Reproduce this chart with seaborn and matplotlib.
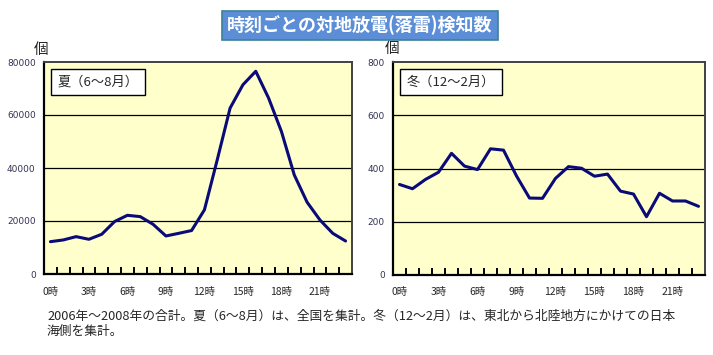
import matplotlib
matplotlib.use("Agg")
import matplotlib.pyplot as plt
import seaborn as sns
import pandas as pd
import numpy as np

hours = list(range(24))
summer = [12200, 12850, 14100, 13100, 15000, 19800, 22150, 21650, 18750, 14350,
          15350, 16400, 24200, 43100, 62600, 71400, 76500, 66400, 53800, 37400,
          27100, 20400, 15350, 12450]
winter = [340, 324, 359, 386, 457, 409, 396, 474, 469, 372, 289, 288, 363, 407,
          401, 371, 379, 315, 304, 219, 307, 278, 278, 258]
tick_labels = [f"{h}時" for h in range(0, 24, 3)]
title = "時刻ごとの対地放電(落雷)検知数"
summer_label = "夏（6〜8月）"
winter_label = "冬（12〜2月）"
note = "2006年〜2008年の合計。夏（6〜8月）は、全国を集計。冬（12〜2月）は、東北から北陸地方にかけての日本\n海側を集計。"

sns.set_theme(style="white")
plt.rcParams['font.family'] = ['Noto Sans CJK JP', 'DejaVu Sans']

W, H = 713, 355
fig = plt.figure(figsize=(W/100, H/100), dpi=100)

def make_ax(rect, values, ymax, step, label):
    x0, y0, x1, y1 = rect
    ax = fig.add_axes([x0/W, 1 - y1/H, (x1-x0)/W, (y1-y0)/H])
    ax.set_facecolor("#FFFFCC")
    df = pd.DataFrame({"hour": hours, "value": values})
    sns.lineplot(data=df, x="hour", y="value", ax=ax, color="#0A0A78", lw=2.2, zorder=3)
    ax.set_xlim(-0.5, 23.5)
    ax.set_ylim(0, ymax)
    yt = np.arange(0, ymax + 1, step)
    ax.set_yticks(yt)
    ax.set_yticklabels([str(int(v)) for v in yt], fontsize=6.5, color="#333355",
                       family="DejaVu Sans")
    for v in yt[1:-1]:
        ax.axhline(v, color="black", lw=0.9, zorder=1)
    # inward tick marks at category boundaries (major), labels every 3 hours (minor)
    bounds = [h + 0.5 for h in hours[:-1]]
    ax.set_xticks(bounds)
    ax.set_xticklabels([""] * len(bounds))
    ax.tick_params(axis="x", which="major", direction="in", length=5, width=1.4,
                   color="black", bottom=True, top=False)
    ax.set_xticks(list(range(0, 24, 3)), labels=tick_labels, minor=True, fontsize=7.5)
    ax.tick_params(axis="x", which="minor", length=0, pad=9, bottom=True)
    ax.tick_params(axis="y", length=0, pad=6)
    ax.set_xlabel("")
    ax.set_ylabel("")
    for s in ["left", "bottom"]:
        ax.spines[s].set_color("black")
        ax.spines[s].set_linewidth(1.6)
    for s in ["top", "right"]:
        ax.spines[s].set_color("#404040")
        ax.spines[s].set_linewidth(1.4)
    ax.text(0.045, 0.935, label, transform=ax.transAxes, fontsize=9.5, va="top",
            ha="left", bbox=dict(boxstyle="square,pad=0.5", fc="white", ec="black", lw=1),
            zorder=5)
    return ax

ax1 = make_ax((44, 62, 352, 274), summer, 80000, 20000, summer_label)
ax2 = make_ax((393, 62, 705, 275), winter, 800, 200, winter_label)

fig.text(41/W, 1 - 50/H, "個", fontsize=10.5, ha="center", va="center")
fig.text(392/W, 1 - 49/H, "個", fontsize=10.5, ha="center", va="center")

fig.text(360/W, 1 - 25.5/H, title, fontsize=13, color="white", ha="center", va="center",
         fontweight="bold",
         bbox=dict(boxstyle="square,pad=0.28", fc="#5B8ED6", ec="#3A8296", lw=1.2))

fig.text(47/W, 1 - 310/H, note, fontsize=9.2, ha="left", va="top", linespacing=1.15)

fig.savefig("out.png", dpi=100)
